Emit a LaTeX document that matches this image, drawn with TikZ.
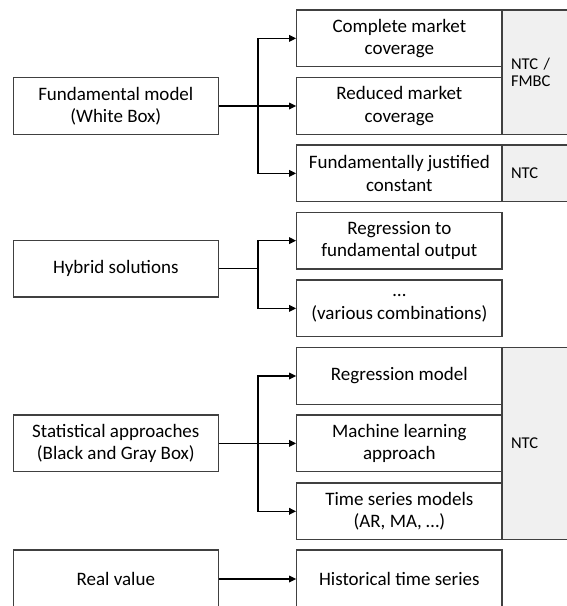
\documentclass[tikz,border=0pt]{standalone}
\usepackage{fontspec}
\setmainfont{Carlito}
\usetikzlibrary{arrows.meta}
\begin{document}
\begin{tikzpicture}[x=1pt,y=-1pt,
  box/.style={draw=black!75, line width=1.1pt, minimum width=205.3pt, minimum height=56.7pt, inner sep=0pt, align=center, font=\fontsize{19}{22.5}\selectfont},
  graybox/.style={draw=black!75, fill=black!6, line width=1.1pt, minimum width=78pt, inner xsep=9pt, inner ysep=0pt, text width=60pt, align=left, font=\fontsize{16.5}{17.6}\selectfont},
  arr/.style={line width=1.6pt, -{Triangle[length=7pt,width=6.5pt]}}]
\clip (0,0) rectangle (567,606);
\fill[white] (0,0) rectangle (567,606);
% gray side panels
\node[graybox, minimum height=124.3pt] (g1) at (541,72.15) {NTC /\\FMBC};
\node[graybox, minimum height=56.7pt] (g2) at (541,173.35) {NTC};
\node[graybox, minimum height=191.6pt] (g3) at (541,443.5) {NTC};
% left column
\node[box] (fm) at (115.8,106) {Fundamental model\\(White Box)};
\node[box] (hy) at (115.8,268.65) {Hybrid solutions};
\node[box] (st) at (115.8,443.35) {Statistical approaches\\(Black and Gray Box)};
\node[box, minimum height=58pt] (rv) at (115.8,579) {Real value};
% right column
\node[box] (c1) at (399.35,38.35) {Complete market\\coverage};
\node[box] (c2) at (399.35,106) {Reduced market\\coverage};
\node[box] (c3) at (399.35,173.35) {Fundamentally justified\\constant};
\node[box] (h1) at (399.35,240.65) {Regression to\\fundamental output};
\node[box] (h2) at (399.35,308.35) {…\\(various combinations)};
\node[box] (s1) at (399.35,376) {Regression model};
\node[box] (s2) at (399.35,443.35) {Machine learning\\approach};
\node[box] (s3) at (399.35,511.3) {Time series models\\(AR, MA, …)};
\node[box, minimum height=58pt] (hs) at (399.35,579) {Historical time series};
% connectors
\draw[arr] (fm.east) -- ++(39,0) |- (c1.west);
\draw[arr] (fm.east) -- (c2.west);
\draw[arr] (fm.east) -- ++(39,0) |- (c3.west);
\draw[arr] (hy.east) -- ++(39,0) |- (h1.west);
\draw[arr] (hy.east) -- ++(39,0) |- (h2.west);
\draw[arr] (st.east) -- ++(39,0) |- (s1.west);
\draw[arr] (st.east) -- (s2.west);
\draw[arr] (st.east) -- ++(39,0) |- (s3.west);
\draw[arr] (rv.east) -- (hs.west);
\end{tikzpicture}
\end{document}
